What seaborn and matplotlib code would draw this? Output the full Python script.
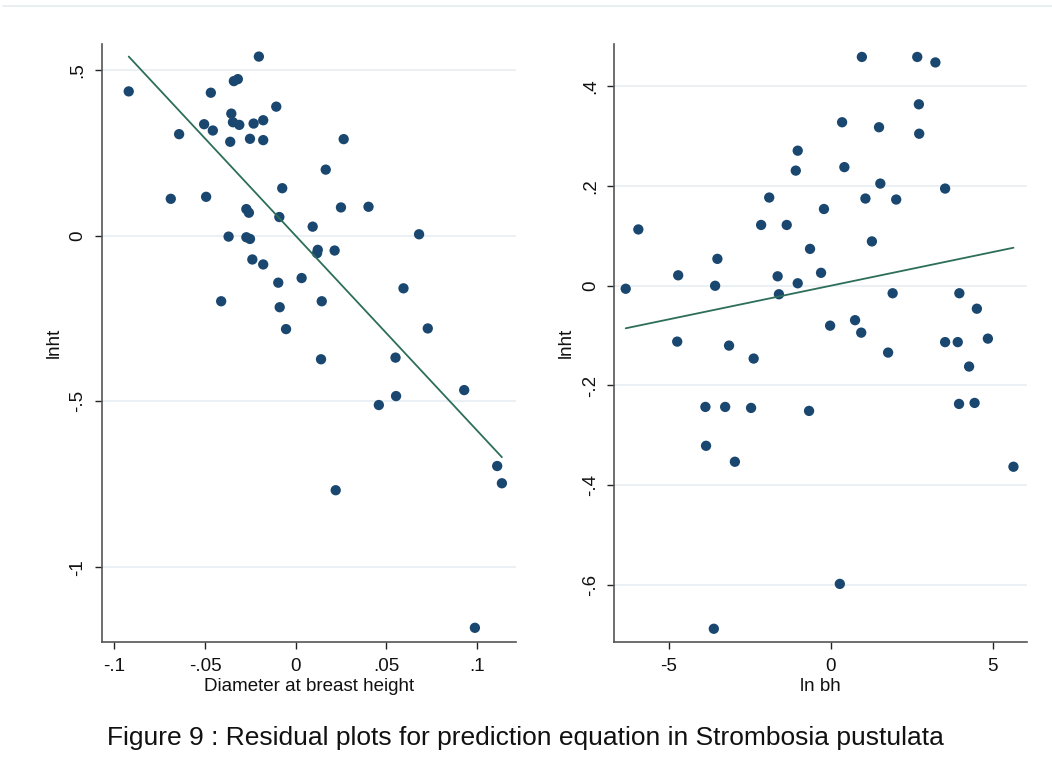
import numpy as np
import pandas as pd
import matplotlib
matplotlib.use("Agg")
import matplotlib.pyplot as plt
from matplotlib.lines import Line2D
import seaborn as sns

# left panel: lnht vs diameter at breast height
dbh = [-0.0921, -0.0203, -0.0341, -0.0319, -0.0468, -0.0107, -0.0355, -0.0505,
       -0.0346, -0.0311, -0.0232, -0.0179, -0.0457, -0.0643, -0.0361, -0.0252,
       -0.0179, 0.0265, 0.0166, -0.0074, -0.0689, -0.0494, -0.0272, -0.0258,
       -0.0090, 0.0250, 0.0402, 0.0094, 0.0681, -0.0370, -0.0272, -0.0252,
       0.0122, 0.0118, 0.0215, -0.0239, -0.0179, -0.0096, 0.0033, 0.0595,
       -0.0411, -0.0088, 0.0144, -0.0053, 0.0729, 0.0140, 0.0551, 0.0930,
       0.0459, 0.0554, 0.1112, 0.1138, 0.0221, 0.0989]
lnht_left = [0.435, 0.540, 0.466, 0.472, 0.431, 0.389, 0.368, 0.336,
             0.342, 0.334, 0.338, 0.348, 0.317, 0.306, 0.283, 0.292,
             0.288, 0.291, 0.199, 0.143, 0.111, 0.117, 0.080, 0.069,
             0.056, 0.085, 0.087, 0.027, 0.004, -0.003, -0.005, -0.010,
             -0.043, -0.053, -0.045, -0.072, -0.087, -0.142, -0.128, -0.159,
             -0.198, -0.216, -0.198, -0.282, -0.280, -0.373, -0.368, -0.466,
             -0.511, -0.484, -0.695, -0.747, -0.768, -1.183]

# right panel: lnht vs ln bh
lnbh = [-6.33, -5.94, -4.71, -3.50, -3.57, -2.15, -1.90, -1.36, -1.64, -1.60,
        -1.02, -1.08, -1.02, -0.64, -0.21, -0.30, 0.35, 0.42, 0.96, 1.49,
        1.53, 1.07, 2.02, 1.27, 2.67, 3.23, 2.72, 2.73, 3.53, 1.91,
        3.97, 4.51, -0.02, 0.75, 0.94, -4.74, -3.14, -2.38, 1.77, 3.53,
        3.92, 4.85, 4.27, -3.87, -3.26, -2.46, -0.67, 3.96, 4.44, -3.85,
        -2.96, 5.64, 0.28, -3.61]
lnht_right = [-0.006, 0.113, 0.021, 0.054, 0.000, 0.122, 0.177, 0.122, 0.019, -0.017,
              0.271, 0.231, 0.005, 0.074, 0.154, 0.026, 0.328, 0.238, 0.459, 0.318,
              0.205, 0.175, 0.173, 0.089, 0.459, 0.448, 0.364, 0.305, 0.195, -0.015,
              -0.015, -0.046, -0.080, -0.069, -0.094, -0.112, -0.120, -0.146, -0.134, -0.113,
              -0.113, -0.106, -0.162, -0.243, -0.243, -0.245, -0.251, -0.237, -0.235, -0.321,
              -0.353, -0.363, -0.598, -0.688]

left_ticks = [-0.1, -0.05, 0, 0.05, 0.1]
left_ticklabels = ["-.1", "-.05", "0", ".05", ".1"]
left_yticks = [0.5, 0, -0.5, -1]
left_yticklabels = [".5", "0", "-.5", "-1"]
right_ticks = [-5, 0, 5]
right_ticklabels = ["-5", "0", "5"]
right_yticks = [0.4, 0.2, 0, -0.2, -0.4, -0.6]
right_yticklabels = [".4", ".2", "0", "-.2", "-.4", "-.6"]

caption = "Figure 9 : Residual plots for prediction equation in Strombosia pustulata"

sns.set_style("white")
plt.rcParams["font.family"] = ["Liberation Sans", "DejaVu Sans"]

DOT = "#1a476f"
LINE = "#2d6e5b"
GRID = "#e6eef2"
AXC = "#555555"

fig = plt.figure(figsize=(10.52, 7.69), dpi=100)
ax1 = fig.add_axes([0.0967, 0.1655, 0.394, 0.7773])
ax2 = fig.add_axes([0.5837, 0.1655, 0.3926, 0.7773])

panels = [
    (ax1, pd.DataFrame({"x": dbh, "y": lnht_left}), "Diameter at breast height",
     left_ticks, left_ticklabels, left_yticks, left_yticklabels, (-0.107, 0.1217), (-1.225, 0.578)),
    (ax2, pd.DataFrame({"x": lnbh, "y": lnht_right}), "ln bh",
     right_ticks, right_ticklabels, right_yticks, right_yticklabels, (-6.69, 6.06), (-0.714, 0.485)),
]

for ax, df, xlab, xt, xtl, yt, ytl, xl, yl in panels:
    sns.regplot(data=df, x="x", y="y", ax=ax, ci=None,
                scatter_kws={"s": 55, "color": DOT, "edgecolor": "none", "alpha": 1, "zorder": 3},
                line_kws={"color": LINE, "lw": 1.3, "zorder": 4})
    ax.set_xlim(*xl)
    ax.set_ylim(*yl)
    ax.set_xticks(xt)
    ax.set_xticklabels(xtl)
    ax.set_yticks(yt)
    ax.set_yticklabels(ytl, rotation=90, va="center")
    ax.yaxis.grid(True, color=GRID, lw=1.2, zorder=0)
    ax.xaxis.grid(False)
    ax.set_axisbelow(True)
    for s in ["top", "right"]:
        ax.spines[s].set_visible(False)
    for s in ["left", "bottom"]:
        ax.spines[s].set_color(AXC)
        ax.spines[s].set_linewidth(1.2)
    ax.tick_params(axis="both", direction="out", length=5, width=1, color="#222222",
                   labelsize=13.5, pad=6, labelcolor="#111111", left=True, bottom=True)
    ax.tick_params(axis="x", pad=7)
    ax.set_xlabel(xlab, fontsize=13.5, labelpad=2, color="#111111")
    ax.set_ylabel("lnht", fontsize=13.5, labelpad=5, color="#111111")

fig.add_artist(Line2D([0.003, 1.0], [1 - 6 / 769, 1 - 6 / 769], color="#e4ecee", lw=1.2,
                      transform=fig.transFigure))
fig.text(0.499, 1 - 738 / 769, caption, ha="center", va="center", fontsize=19,
         color="#111111")

fig.savefig("out.png", dpi=100, facecolor="white")
plt.close(fig)
